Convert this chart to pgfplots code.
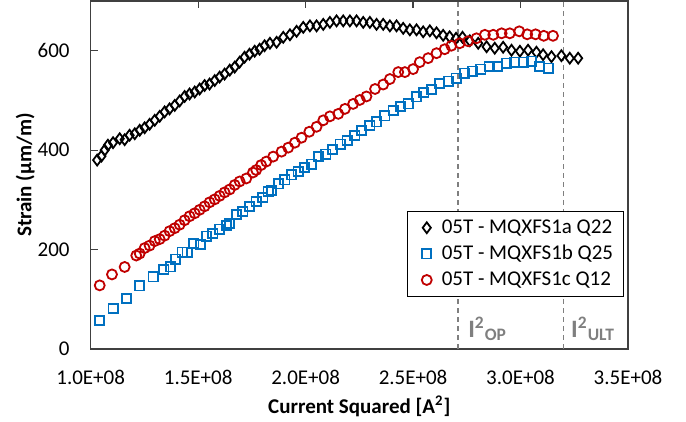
\documentclass[border=0pt]{standalone}
\usepackage{fontspec}
\setmainfont{Carlito}
\usepackage{pgfplots}
\pgfplotsset{compat=1.18}
\usepackage{pgfplotstable}

\definecolor{xlblue}{HTML}{0070C0}
\definecolor{xlred}{HTML}{C00000}
\definecolor{xlgray}{HTML}{7F7F7F}
\definecolor{xlframe}{HTML}{404040}

% x in units of 1E+08 A^2, strain in um/m
\pgfplotstableread{
x y
1.03 380
1.05 388
1.065 400
1.08 410
1.104 415
1.135 423
1.158 421
1.181 430
1.205 433
1.228 440
1.251 445
1.274 452
1.298 460
1.321 468
1.344 477
1.367 483
1.391 490
1.414 499
1.437 508
1.46 513
1.484 517
1.507 523
1.53 530
1.553 533
1.577 540
1.6 547
1.623 553
1.647 561
1.67 567
1.693 577
1.716 587
1.739 593
1.763 599
1.786 603
1.809 610
1.834 615
1.865 617
1.896 627
1.927 632
1.958 639
1.989 647
2.02 650
2.051 650
2.082 653
2.113 657
2.144 660
2.175 660
2.206 660
2.237 660
2.268 657
2.299 657
2.33 653
2.361 653
2.392 650
2.423 650
2.454 645
2.485 642
2.516 642
2.547 638
2.578 640
2.609 636
2.64 631
2.67 628
2.70 625
2.73 627
2.764 620
2.803 615
2.842 608
2.88 605
2.919 607
2.958 601
2.997 599
3.035 601
3.074 597
3.105 592
3.144 588
3.19 590
3.229 585
3.268 585
}\qtwotwo

\pgfplotstableread{
x y
1.042 57
1.104 81
1.166 101
1.228 127
1.29 145
1.341 160
1.372 165
1.394 181
1.425 195
1.449 195
1.48 212
1.511 210
1.538 227
1.569 232
1.6 241
1.631 248
1.646 253
1.677 270
1.708 277
1.739 287
1.77 297
1.801 305
1.825 317
1.842 319
1.873 332
1.904 340
1.935 350
1.965 357
1.996 365
2.028 372
2.059 387
2.094 392
2.125 401
2.16 412
2.193 419
2.229 430
2.26 439
2.299 449
2.33 457
2.369 469
2.407 480
2.442 488
2.477 493
2.516 507
2.55 516
2.586 522
2.625 534
2.664 539
2.7 545
2.738 555
2.777 559
2.816 563
2.854 568
2.893 568
2.935 575
2.973 577
3.012 577
3.051 579
3.09 568
3.128 565
}\qtwofive

\pgfplotstableread{
x y
1.042 128
1.099 150
1.158 165
1.212 188
1.228 192
1.251 203
1.274 208
1.298 217
1.321 221
1.344 228
1.367 237
1.391 243
1.414 250
1.437 259
1.46 267
1.484 273
1.507 280
1.53 287
1.553 295
1.577 301
1.6 308
1.623 315
1.647 321
1.67 330
1.693 337
1.724 343
1.755 355
1.77 360
1.793 370
1.817 377
1.849 387
1.888 397
1.919 405
1.95 415
1.981 425
2.017 437
2.051 447
2.082 460
2.113 468
2.152 473
2.183 483
2.221 493
2.252 501
2.283 508
2.323 523
2.361 532
2.392 543
2.431 557
2.462 557
2.5 563
2.531 577
2.57 585
2.609 595
2.647 603
2.678 610
2.717 615
2.756 619
2.795 625
2.834 632
2.873 632
2.912 635
2.95 635
2.994 639
3.031 633
3.07 633
3.108 630
3.151 630
}\qonetwo

\begin{document}
\begin{tikzpicture}
\path[use as bounding box] (-45.35pt,-36.5pt) rectangle (297.65pt,174.5pt);
\begin{axis}[
  at={(0,0)}, anchor=south west,
  scale only axis,
  width=268.65pt, height=174pt,
  xmin=1, xmax=3.5, ymin=0, ymax=700,
  axis line style={xlframe, line width=0.6pt},
  xtick={1,1.5,2,2.5,3,3.5},
  xticklabels={1.0E+08,1.5E+08,2.0E+08,2.5E+08,3.0E+08,3.5E+08},
  ytick={0,200,400,600},
  xtick pos=upper, xticklabel pos=lower,
  ytick pos=left,
  tick align=inside, major tick length=3.5pt,
  tick style={xlframe, line width=0.6pt},
  /pgf/number format/assume math mode=true,
  ticklabel style={font=\fontsize{10.5}{12}\selectfont, text=black},
  xticklabel style={yshift=-7pt},
  yticklabel style={xshift=-7pt},
  xlabel={\textbf{Current Squared [A\textsuperscript{2}]}},
  ylabel={\textbf{Strain (µm/m)}},
  label style={font=\fontsize{10.5}{12}\selectfont},
  xlabel style={at={(axis description cs:0.5,-0.164)}, anchor=center},
  ylabel style={at={(axis description cs:-0.122,0.5)}, anchor=center},
  legend style={at={(rel axis cs:0.589,0.397)}, anchor=north west,
    draw=black, line width=0.6pt, font=\fontsize{10.5}{12}\selectfont,
    row sep=0.5pt, inner xsep=3pt, inner ysep=2pt},
  legend cell align=left,
  legend image code/.code={%
    \path[draw=none, fill=none] (0pt,0pt) rectangle (12pt,0.1pt);
    \draw[#1] plot coordinates {(6.5pt,0pt)};},
]
\addplot[forget plot, xlgray, line width=0.75pt, dash pattern=on 2.5pt off 2pt]
  coordinates {(2.71,0) (2.71,700)};
\addplot[forget plot, xlgray, line width=0.75pt, dash pattern=on 2.5pt off 2pt]
  coordinates {(3.2,0) (3.2,700)};

\addplot[only marks, mark=diamond, mark size=2.7pt, black, line width=0.9pt]
  table {\qtwotwo};
\addlegendentry{05T - MQXFS1a Q22}
\addplot[only marks, mark=square, mark size=2.3pt, xlblue, line width=0.9pt]
  table {\qtwofive};
\addlegendentry{05T - MQXFS1b Q25}
\addplot[only marks, mark=o, mark size=2.5pt, xlred, line width=0.9pt]
  table {\qonetwo};
\addlegendentry{05T - MQXFS1c Q12}

\node[anchor=west, text=xlgray, font=\fontsize{12.5}{14}\selectfont\bfseries, inner sep=0pt]
  at (axis cs:2.755,40) {I\textsuperscript{2}\textsubscript{OP}};
\node[anchor=west, text=xlgray, font=\fontsize{12.5}{14}\selectfont\bfseries, inner sep=0pt]
  at (axis cs:3.234,40) {I\textsuperscript{2}\textsubscript{ULT}};
\end{axis}
\end{tikzpicture}
\end{document}
